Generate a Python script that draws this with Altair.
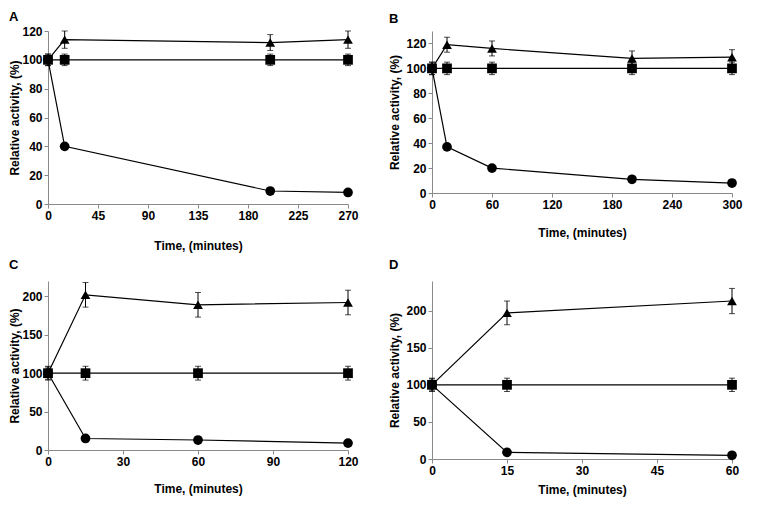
import altair as alt
import pandas as pd

# ---- data ----
A_time = [0, 15, 200, 270]
A_tri = [100, 114, 112, 114]
A_tri_err = [4, 6, 5.5, 6]
A_sq = [100, 100, 100, 100]
A_sq_err = [4, 4, 4, 4]
A_circ = [100, 40, 9, 8]

B_time = [0, 15, 60, 200, 300]
B_tri = [100, 119, 116, 108, 109]
B_tri_err = [5, 6, 6, 6, 6]
B_sq = [100, 100, 100, 100, 100]
B_sq_err = [5, 5, 5, 5, 5]
B_circ = [100, 37, 20, 11, 8]

C_time = [0, 15, 60, 120]
C_tri = [100, 202, 189, 192]
C_tri_err = [8, 16, 16, 16]
C_sq = [100, 100, 100, 100]
C_sq_err = [9, 9, 9, 9]
C_circ = [100, 15, 13, 9]

D_time = [0, 15, 60]
D_tri = [100, 197, 213]
D_tri_err = [8, 16, 17]
D_sq = [100, 100, 100]
D_sq_err = [9, 9, 9]
D_circ = [100, 9, 5]

FONT = "Liberation Sans"


def make_df(times, circ, tri, tri_err, sq, sq_err):
    rows = []
    for t, v in zip(times, circ):
        rows.append(dict(t=t, v=v, s="circle", lo=v, hi=v))
    for t, v, e in zip(times, tri, tri_err):
        rows.append(dict(t=t, v=v, s="triangle", lo=v - e, hi=v + e))
    for t, v, e in zip(times, sq, sq_err):
        rows.append(dict(t=t, v=v, s="square", lo=v - e, hi=v + e))
    return pd.DataFrame(rows)


def panel(label, df, xmax, xstep, ymax, ytop, ystep, w, h, toff, ytpad, xtpad):
    xs = alt.Scale(domain=[0, xmax], nice=False, zero=True)
    ys = alt.Scale(domain=[0, ymax], nice=False)
    xax = alt.Axis(values=list(range(0, xmax + 1, xstep)), title="Time, (minutes)",
                   titlePadding=xtpad, labelFlush=False, labelOverlap=False)
    yax = alt.Axis(values=list(range(0, ytop + 1, ystep)), title="Relative activity, (%)",
                   titlePadding=ytpad, labelOverlap=False)

    def X(f):
        return alt.X(f, scale=xs, axis=xax)

    def Y(f):
        return alt.Y(f, scale=ys, axis=yax)

    line = alt.Chart(df).mark_line(color="black", strokeWidth=1.2).encode(
        x=X("t:Q"), y=Y("v:Q"), detail="s:N", order="t:Q")
    eb = df[df.s != "circle"]
    rule = alt.Chart(eb).mark_rule(color="black", strokeWidth=1).encode(
        x=X("t:Q"), y=Y("lo:Q"), y2="hi:Q")
    cap_hi = alt.Chart(eb).mark_tick(orient="horizontal", size=6, thickness=1, color="black").encode(
        x=X("t:Q"), y=Y("hi:Q"))
    cap_lo = alt.Chart(eb).mark_tick(orient="horizontal", size=6, thickness=1, color="black").encode(
        x=X("t:Q"), y=Y("lo:Q"))
    pts = alt.Chart(df).mark_point(filled=True, opacity=1, color="black", size=95).encode(
        x=X("t:Q"), y=Y("v:Q"),
        shape=alt.Shape("s:N", scale=alt.Scale(domain=["circle", "triangle", "square"],
                                               range=["circle", "triangle-up", "square"]),
                        legend=None))
    return alt.layer(line, rule, cap_hi, cap_lo, pts).properties(
        width=w, height=h,
        title=alt.TitleParams(label, anchor="start", fontSize=13, fontWeight="bold",
                              font=FONT, color="black", offset=toff))


pA = panel("A", make_df(A_time, A_circ, A_tri, A_tri_err, A_sq, A_sq_err),
           270, 45, 120, 120, 20, 300, 173, 1, 0, 19)
pB = panel("B", make_df(B_time, B_circ, B_tri, B_tri_err, B_sq, B_sq_err),
           300, 60, 130, 120, 20, 300, 162, 5, 4, 17)
pC = panel("C", make_df(C_time, C_circ, C_tri, C_tri_err, C_sq, C_sq_err),
           120, 30, 220, 200, 50, 300, 169, 9, 0, 16)
pD = panel("D", make_df(D_time, D_circ, D_tri, D_tri_err, D_sq, D_sq_err),
           60, 15, 240, 200, 50, 300, 178, 9, 4, 8)

chart = alt.concat(pA, pB, pC, pD, columns=2, spacing={"row": 8, "column": 29}).properties(
    padding={"left": 0, "top": 3, "right": 0, "bottom": 10}, background="white"
).configure_view(stroke=None).configure_axis(
    grid=False, domainColor="#8a8a8a", tickColor="#8a8a8a", tickSize=4,
    labelFont=FONT, labelFontSize=12, labelFontWeight="bold", labelColor="black", labelPadding=2,
    titleFont=FONT, titleFontSize=12, titleFontWeight="bold", titleColor="black"
)

chart.save("out.html", embed_options={"renderer": "svg", "actions": False})
